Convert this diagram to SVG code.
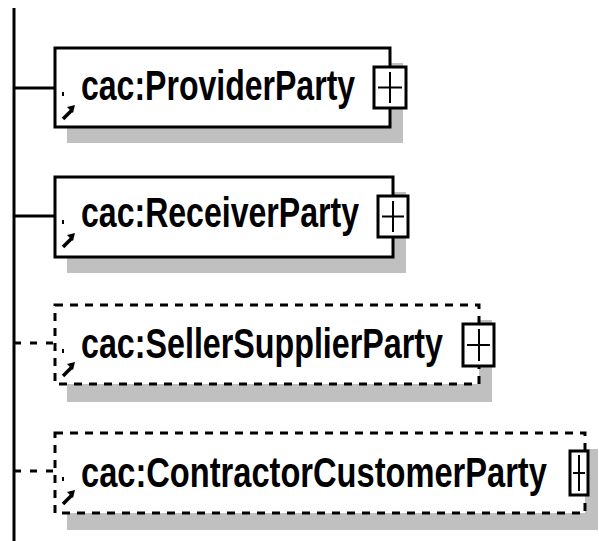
<svg xmlns="http://www.w3.org/2000/svg" width="599" height="541" viewBox="0 0 599 541">
<style>
.shadow{fill:#c0c0c0}
.box{fill:#fff;stroke:#000;stroke-width:3}
.opt{fill:#fff;stroke:#000;stroke-width:3;stroke-dasharray:8 7}
.line{stroke:#000;stroke-width:3;fill:none}
.dline{stroke:#000;stroke-width:3;fill:none;stroke-dasharray:7 9}
.plus{fill:#fff;stroke:#000;stroke-width:3}
.pl{stroke:#000;stroke-width:2}
.lbl{font-family:"Liberation Sans",Arial,sans-serif;font-weight:bold;font-size:42px;fill:#000}
</style>
<defs>
<g id="ref">
<rect x="0" y="0" width="2" height="4" fill="#000"/>
<path d="M1,27 L10,18" stroke="#000" stroke-width="3.5"/>
<polygon points="13,13 5,15 11,21" fill="#000"/>
</g>
</defs>
<rect width="599" height="541" fill="#fff"/>
<g id="connectors">
<line class="line" x1="14" y1="8" x2="14" y2="541"/>
<line class="line" x1="14" y1="88" x2="55" y2="88"/>
<line class="line" x1="14" y1="216" x2="55" y2="216"/>
<line class="dline" x1="14" y1="343" x2="55" y2="343"/>
<line class="dline" x1="14" y1="471" x2="55" y2="471"/>
</g>
<g id="ProviderParty">
<rect class="shadow" x="67" y="63" width="336" height="80"/>
<rect class="box" x="55" y="48" width="335" height="79"/>
<use href="#ref" x="62" y="92"/>
<text class="lbl" transform="translate(81,100) scale(0.77,1)" textLength="356" lengthAdjust="spacingAndGlyphs">cac:ProviderParty</text>
<rect class="plus" x="374" y="67" width="32" height="41"/>
<line class="pl" x1="378" y1="87.5" x2="402" y2="87.5"/>
<line class="pl" x1="390" y1="72" x2="390" y2="103"/>
</g>
<g id="ReceiverParty">
<rect class="shadow" x="67" y="192" width="339" height="81"/>
<rect class="box" x="55" y="177" width="338" height="80"/>
<use href="#ref" x="62" y="220"/>
<text class="lbl" transform="translate(81,227) scale(0.77,1)" textLength="361" lengthAdjust="spacingAndGlyphs">cac:ReceiverParty</text>
<rect class="plus" x="378" y="196" width="30" height="41"/>
<line class="pl" x1="382" y1="216.5" x2="404" y2="216.5"/>
<line class="pl" x1="393" y1="201" x2="393" y2="232"/>
</g>
<g id="SellerSupplierParty">
<rect class="shadow" x="67" y="320" width="425" height="82"/>
<rect class="opt" x="55" y="305" width="424" height="79"/>
<use href="#ref" x="62" y="349"/>
<text class="lbl" transform="translate(81,358) scale(0.77,1)" textLength="470" lengthAdjust="spacingAndGlyphs">cac:SellerSupplierParty</text>
<rect class="plus" x="463" y="324" width="31" height="42"/>
<line class="pl" x1="467" y1="345" x2="490" y2="345"/>
<line class="pl" x1="479" y1="329" x2="479" y2="361"/>
</g>
<g id="ContractorCustomerParty">
<rect class="shadow" x="67" y="449" width="531" height="81"/>
<rect class="opt" x="55" y="433" width="530" height="80"/>
<use href="#ref" x="62" y="477"/>
<text class="lbl" transform="translate(81,487) scale(0.77,1)" textLength="605" lengthAdjust="spacingAndGlyphs">cac:ContractorCustomerParty</text>
<rect class="plus" x="570" y="451" width="18" height="44"/>
<line class="pl" x1="573" y1="473" x2="585" y2="473"/>
<line class="pl" x1="579" y1="455" x2="579" y2="491"/>
</g>
</svg>
